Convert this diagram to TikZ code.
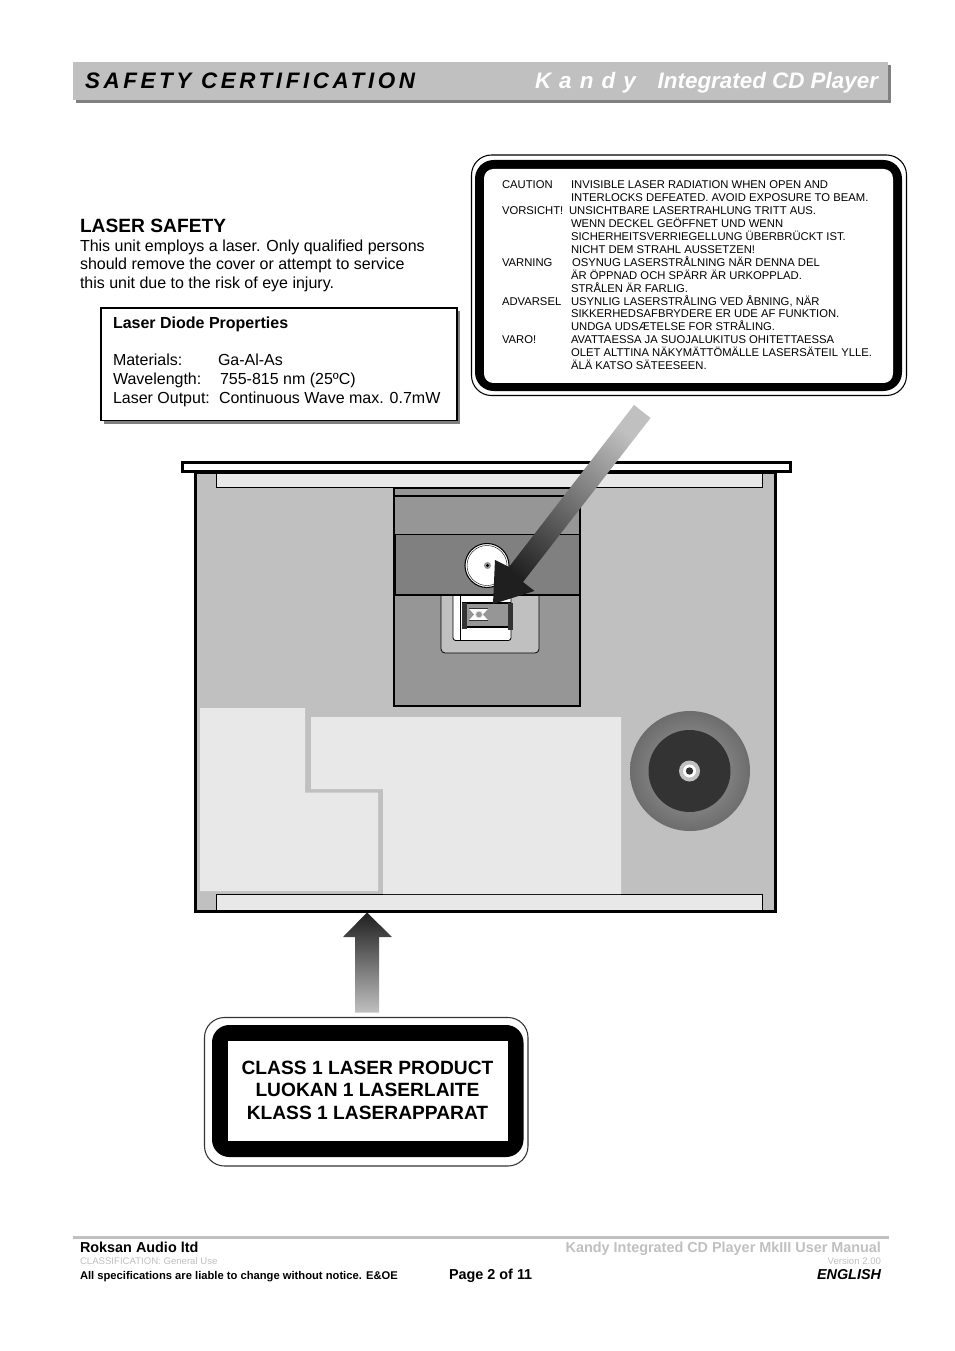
\documentclass[tikz,border=0pt]{standalone}
\usepackage{xcolor}
\usepackage{fontspec}
\setmainfont{Liberation Sans}
\usepackage{tikz}
\usetikzlibrary{arrows.meta, positioning, calc}
\definecolor{rkLight}{HTML}{E8E8E8}
\definecolor{rkSilver}{HTML}{C0C0C0}
\definecolor{rkMid}{HTML}{969696}
\definecolor{rkDark}{HTML}{808080}
\definecolor{rkCoal}{HTML}{333333}
\tikzset{
  txtline/.style={anchor=base west, inner sep=0pt, outer sep=0pt},
  bodytxt/.style={txtline, font=\fontsize{12}{14}\selectfont},
  labeltxt/.style={txtline, font=\fontsize{8.45}{10}\selectfont},
  classtxt/.style={anchor=base, inner sep=0pt, font=\bfseries\fontsize{14.4}{18}\selectfont},
  foottxt/.style={txtline, font=\bfseries\fontsize{10.8}{12}\selectfont},
  footright/.style={anchor=base east, inner sep=0pt, outer sep=0pt},
  finebox/.style={draw=black, line width=0.6pt},
  rimline/.style={draw=black, line width=2.25pt}
}
\begin{document}
\begin{tikzpicture}[x=0.75pt,y=-0.75pt]
  \useasboundingbox (0,0) rectangle (954,1351);
  \fill[white] (0,0) rectangle (954,1351);

  % page header
  \fill[rkDark] (76,65) rectangle (891,103);
  \fill[rkSilver] (73,62) rectangle (888,100);
  \node[txtline, font=\bfseries\itshape\fontsize{16.8}{20}\selectfont\addfontfeatures{LetterSpace=16}] (titleL) at (85,88.5) {SAFETY CERTIFICATION};
  \node[txtline, white, font=\bfseries\itshape\fontsize{16.8}{20}\selectfont\addfontfeatures{LetterSpace=36}] (titleK) at (535,88.5) {Kandy};
  \node[footright, white, font=\bfseries\itshape\fontsize{16.8}{20}\selectfont] (titleR) at (878,88.5) {Integrated CD Player};

  % intro text
  \node[txtline, font=\bfseries\fontsize{14.4}{16}\selectfont] (safetyHead) at (80,232.5) {LASER SAFETY};
  \node[bodytxt] (intro1) at (80,252) {This unit employs a laser. Only qualified persons};
  \node[bodytxt] (intro2) at (80,270) {should remove the cover or attempt to service};
  \node[bodytxt] (intro3) at (80,289) {this unit due to the risk of eye injury.};

  % diode box
  \fill[rkDark] (104,311) rectangle (460,424);
  \draw[fill=white, line width=1.1pt] (101,308) rectangle (457,420.5);
  \node[txtline, font=\bfseries\fontsize{12}{13}\selectfont] (diodeHead) at (113,329) {Laser Diode Properties};
  \node[bodytxt] (matKey) at (113,366) {Materials:};
  \node[bodytxt] (matVal) at (218,366) {Ga-Al-As};
  \node[bodytxt] (waveKey) at (113,384) {Wavelength:};
  \node[bodytxt] (waveVal) at (220,384) {755-815 nm (25ºC)};
  \node[bodytxt] (outKey) at (113,403) {Laser Output:};
  \node[bodytxt] (outVal) at (219,403) {Continuous Wave max. 0.7mW};

  % caution label
  \draw[fill=white, line width=0.8pt, rounded corners=15] (471.5,155) rectangle (906.5,395.5);
  \fill[black, rounded corners=14] (475,160) rectangle (902,391);
  \fill[white, rounded corners=7] (484,169) rectangle (893,383);
  \node[labeltxt] (cauKey) at (502,189) {CAUTION};
  \node[labeltxt] (cauA) at (571,189) {INVISIBLE LASER RADIATION WHEN OPEN AND};
  \node[labeltxt] (cauB) at (571,202) {INTERLOCKS DEFEATED. AVOID EXPOSURE TO BEAM.};
  \node[labeltxt] (vorKey) at (502,215) {VORSICHT!};
  \node[labeltxt] (vorA) at (569,215) {UNSICHTBARE LASERTRAHLUNG TRITT AUS.};
  \node[labeltxt] (vorB) at (571,228) {WENN DECKEL GEÖFFNET UND WENN};
  \node[labeltxt] (vorC) at (571,241) {SICHERHEITSVERRIEGELLUNG ÜBERBRÜCKT IST.};
  \node[labeltxt] (vorD) at (571,254) {NICHT DEM STRAHL AUSSETZEN!};
  \node[labeltxt] (varKey) at (502,267) {VARNING};
  \node[labeltxt] (varA) at (572,267) {OSYNUG LASERSTRÅLNING NÄR DENNA DEL};
  \node[labeltxt] (varB) at (571,280) {ÄR ÖPPNAD OCH SPÄRR ÄR URKOPPLAD.};
  \node[labeltxt] (varC) at (571,293) {STRÅLEN ÄR FARLIG.};
  \node[labeltxt] (advKey) at (502,306) {ADVARSEL};
  \node[labeltxt] (advA) at (571,306) {USYNLIG LASERSTRÅLING VED ÅBNING, NÄR};
  \node[labeltxt] (advB) at (571,318) {SIKKERHEDSAFBRYDERE ER UDE AF FUNKTION.};
  \node[labeltxt] (advC) at (571,331) {UNDGA UDSÆTELSE FOR STRÅLING.};
  \node[labeltxt] (vroKey) at (502,344) {VARO!};
  \node[labeltxt] (vroA) at (571,344) {AVATTAESSA JA SUOJALUKITUS OHITETTAESSA};
  \node[labeltxt] (vroB) at (571,357) {OLET ALTTINA NÄKYMÄTTÖMÄLLE LASERSÄTEIL YLLE.};
  \node[labeltxt] (vroC) at (571,369) {ÄLÄ KATSO SÄTEESEEN.};

  % chassis
  \draw[rimline, fill=white] (182.5,462.5) rectangle (790.5,471.5);
  \draw[rimline, fill=rkSilver] (195.5,472) rectangle (775.5,911.5);
  \draw[finebox, fill=rkLight] (216,473) rectangle (762,487.5);
  \draw[finebox, fill=rkLight] (216,894) rectangle (762,910);
  \fill[rkLight] (200,708) -- (305,708) -- (305,792.5) -- (378,792.5) -- (378,891) -- (200,891) -- cycle;
  \fill[rkLight] (311,717) -- (621,717) -- (621,894) -- (383,894) -- (383,789) -- (311,789) -- cycle;

  % transport
  \draw[line width=1.5pt, fill=rkMid] (394,488) rectangle (580,706);
  \draw[line width=1.6pt] (394,496) -- (580,496);
  \fill[rkDark] (395,534) rectangle (579,595);
  \draw[line width=0.6pt] (395,534) -- (579,534);
  \draw[line width=1.2pt] (394,595) -- (580,595);
  \draw[line width=0.6pt] (395,534) -- (395,595) (579,534) -- (579,595);
  \draw[finebox, fill=rkSilver, rounded corners=3] (441,596) -- (441,653) -- (539,653) -- (539,596);
  \draw[finebox, fill=white, rounded corners=2] (453,596) -- (453,640.5) -- (511,640.5) -- (511,596);
  \draw[line width=0.6pt] (460,596) -- (460,640.5);
  \draw[line width=1.1pt, fill=rkMid] (463,603) rectangle (510,627);
  \fill[rkCoal] (462,603) rectangle (467,629);
  \fill[rkCoal] (507.5,603) rectangle (513,630);
  \fill[white] (469,608) rectangle (488,621);
  \draw[rkCoal, line width=0.6pt] (469,608.5) -- (488,608.5) (469,620.5) -- (488,620.5);
  \fill[rkMid] (469,609) -- (474,614.5) -- (469,620) -- cycle (488,609) -- (483,614.5) -- (488,620) -- cycle;
  \draw[fill=rkMid, draw=rkLight, line width=0.6pt] (479,614.5) circle[radius=3.5];
  \draw[fill=white, line width=0.8pt] (487,565.5) circle[radius=22];
  \draw[line width=0.3pt] (487,565.5) circle[radius=20];
  \fill[rkMid] (487.5,565.5) circle[radius=3.5];
  \fill[black] (487.5,565.5) circle[radius=1.6];

  % disc motor
  \shade[inner color=rkMid!90!white, outer color=rkDark!85!black] (690,771) circle[radius=60];
  \fill[rkCoal] (689.5,771) circle[radius=41];
  \fill[rkSilver] (689.5,771) circle[radius=10.5];
  \fill[white] (689.5,771) circle[radius=6.5];
  \fill[rkCoal] (689.5,771) circle[radius=3.7];

  % beam arrows
  \shade[top color=rkSilver, bottom color=black!88, shading angle=-37.7] (634,405) -- (650.5,418) -- (523,582) -- (534.5,591) -- (493,604) -- (495,560) -- (509,567) -- cycle;
  \shade[top color=black!88, bottom color=rkSilver] (367,912.5) -- (392,937) -- (379,937) -- (379,1012.5) -- (355,1012.5) -- (355,937) -- (343,937) -- cycle;

  % class label
  \draw[fill=white, draw=rkCoal, line width=0.8pt, rounded corners=15] (204.5,1017.5) rectangle (528,1166);
  \fill[black, rounded corners=13] (212,1025) rectangle (523.5,1157);
  \fill[white] (228,1041) rectangle (507.5,1141);
  \node[classtxt] (classA) at (367.5,1074) {CLASS 1 LASER PRODUCT};
  \node[classtxt] (classB) at (367.5,1096) {LUOKAN 1 LASERLAITE};
  \node[classtxt] (classC) at (367.5,1119) {KLASS 1 LASERAPPARAT};

  % page footer
  \draw[rkSilver, line width=2.25pt] (73,1237) -- (889,1237);
  \node[foottxt] (footCo) at (80,1252) {Roksan Audio ltd};
  \node[footright, rkSilver, font=\bfseries\fontsize{10.8}{12}\selectfont] (footDoc) at (881,1252) {Kandy Integrated CD Player MkIII User Manual};
  \node[txtline, rkSilver, font=\fontsize{7.2}{8}\selectfont] (footCl) at (80,1264) {CLASSIFICATION: General Use};
  \node[footright, rkSilver, font=\fontsize{7.2}{8}\selectfont] (footVer) at (881,1264) {Version 2.00};
  \node[txtline, font=\bfseries\fontsize{8.4}{10}\selectfont] (footNote) at (80,1279) {All specifications are liable to change without notice. E\&OE};
  \node[foottxt] (footPage) at (449,1279) {Page 2 of 11};
  \node[footright, font=\bfseries\itshape\fontsize{10.8}{12}\selectfont] (footLang) at (881,1279) {ENGLISH};
\end{tikzpicture}
\end{document}
